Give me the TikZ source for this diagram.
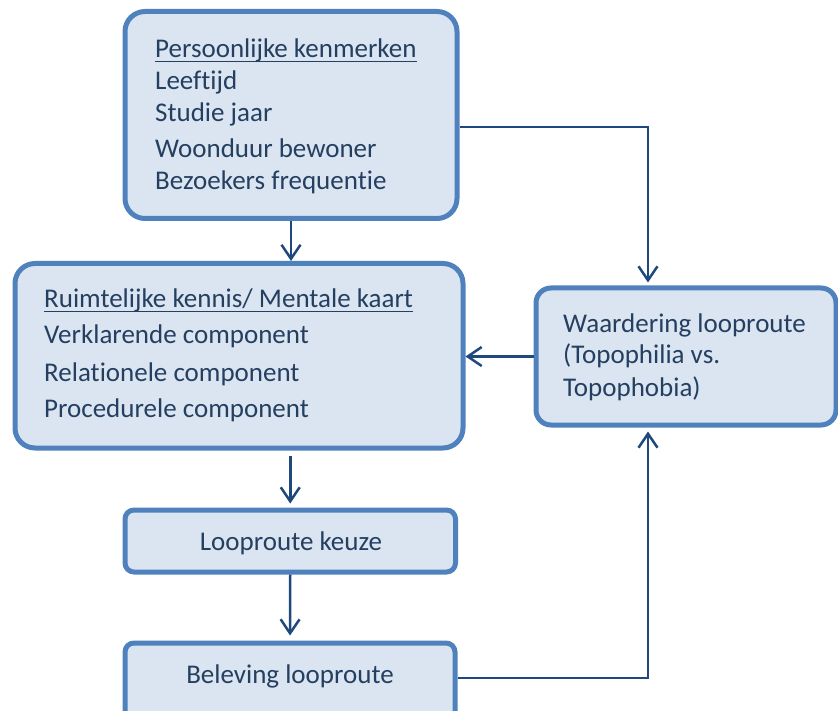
\documentclass[tikz,border=0pt]{standalone}
\usepackage{fontspec}
\setmainfont{Carlito}[Ligatures={NoCommon,NoRequired,NoContextual}]
\usetikzlibrary{arrows.meta,calc}
\definecolor{boxfill}{HTML}{DBE5F1}
\definecolor{boxline}{HTML}{4F81BD}
\definecolor{txt}{HTML}{243F60}
\definecolor{conncol}{HTML}{1F497D}
\begin{document}
\begin{tikzpicture}[x=1pt,y=-1pt,
  box/.style={draw=boxline,fill=boxfill,line width=5pt,rounded corners=20pt,inner sep=0pt,rectangle},
  lbl/.style={text=txt,font=\fontsize{27}{30}\selectfont,inner sep=0pt,anchor=base west},
  clbl/.style={lbl,anchor=base},
  uline/.style={draw=txt,line width=1.6pt},
  conn/.style={draw=conncol,line width=2.5pt,-{Straight Barb[length=14pt,width=19pt]}}]
\useasboundingbox (0,0) rectangle (838,711);
\clip (0,0) rectangle (838,711);

% boxes
\node[box,minimum width=332pt,minimum height=207pt] (b1) at (291,115) {};
\node[box,minimum width=448pt,minimum height=184.5pt] (b2) at (239,355.75) {};
\node[box,minimum width=300pt,minimum height=137pt,rounded corners=15pt] (b3) at (686,356.5) {};
\node[box,minimum width=330.5pt,minimum height=62pt,rounded corners=9pt] (b4) at (290.25,541) {};
\node[box,minimum width=330pt,minimum height=77pt,rounded corners=9pt] (b5) at (290,681.5) {};

% box 1 text
\node[lbl] (t11) at (155,58) {Persoonlijke kenmerken};
\draw[uline] ([yshift=-3.5pt]t11.base west) -- ([yshift=-3.5pt]t11.base east);
\node[lbl] (t12) at (155,90) {Leeftijd};
\node[lbl] (t13) at (155,122) {Studie jaar};
\node[lbl] (t14) at (155,158) {Woonduur bewoner};
\node[lbl] (t15) at (155,190) {Bezoekers frequentie};

% box 2 text
\node[lbl] (t21) at (44,308) {Ruimtelijke kennis/ Mentale kaart};
\draw[uline] ([yshift=-3.5pt]t21.base west) -- ([yshift=-3.5pt]t21.base east);
\node[lbl] (t22) at (44,343) {Verklarende component};
\node[lbl] (t23) at (44,381) {Relationele component};
\node[lbl] (t24) at (44,417) {Procedurele component};

% box 3 text
\node[lbl] (t31) at (563,332) {Waardering looproute};
\node[lbl] (t32) at (563,363) {(Topophilia vs.};
\node[lbl] (t33) at (563,396) {Topophobia)};

% box 4 and 5 text
\node[clbl] (t41) at (291,550) {Looproute keuze};
\node[clbl] (t51) at (290,683) {Beleving looproute};

% connectors
\draw[conn] (b1.south) -- (b1.south |- b2.north);
\draw[conn,shorten <=5pt,shorten >=4pt] (b4.north |- b2.south) -- (b4.north);
\draw[conn,shorten >=5pt] (b4.south) -- (b5.north);
\draw[conn,shorten >=3pt] ($(b1.east)+(0,12)$) -| ($(b3.north)+(-38,0)$);
\draw[conn] (b3.west) -- (b2.east |- b3.west);
\draw[conn,shorten >=4pt] ($(b5.east)+(0,-3.5)$) -| ($(b3.south)+(-38,0)$);
\end{tikzpicture}
\end{document}
